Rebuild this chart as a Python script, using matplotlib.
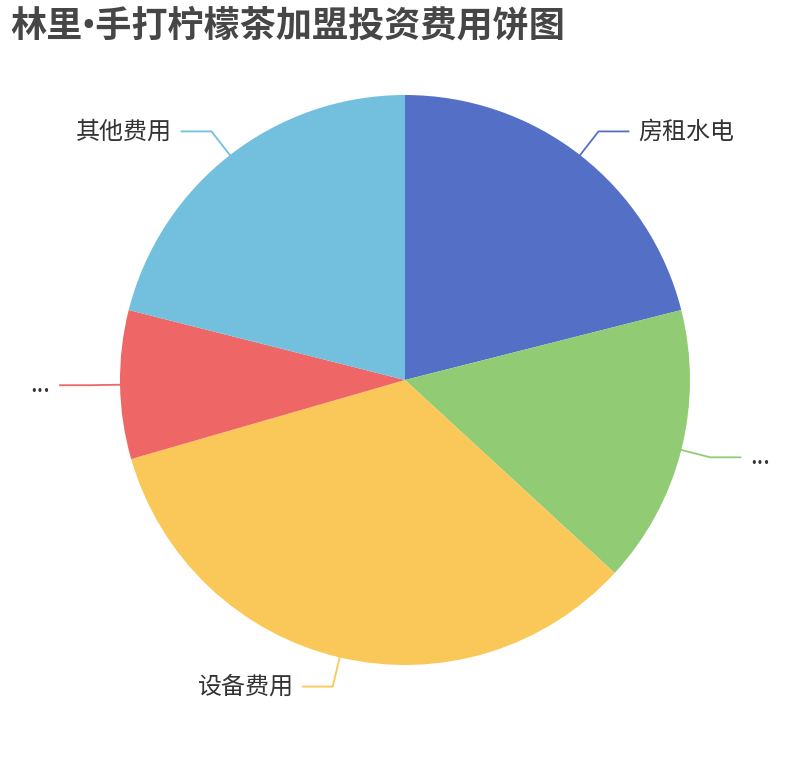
import numpy as np
import matplotlib
matplotlib.use("Agg")
import matplotlib.pyplot as plt

plt.rcParams['font.family'] = ['Noto Sans CJK SC', 'DejaVu Sans']

title = "林里•手打柠檬茶加盟投资费用饼图"
labels = ["房租水电", "...", "设备费用", "...", "其他费用"]
values = [5, 3.75, 8, 2, 5]
colors = ["#5470c6", "#91cc75", "#fac858", "#ee6666", "#73c0de"]

W, H = 810, 760
fig = plt.figure(figsize=(W / 100, H / 100), dpi=100)
ax = fig.add_axes([0, 0, 1, 1])

cx, cy, r = 405, H - 380, 285
wedges, _ = ax.pie(values, colors=colors, startangle=90, counterclock=False,
                   center=(cx, cy), radius=r, frame=True,
                   wedgeprops=dict(linewidth=0))
ax.set_xlim(0, W)
ax.set_ylim(0, H)
ax.set_aspect('equal')
ax.axis('off')

# label lines like echarts: short radial piece then horizontal piece
for w, lab, col in zip(wedges, labels, colors):
    mid = np.deg2rad((w.theta1 + w.theta2) / 2)
    c, s = np.cos(mid), np.sin(mid)
    p0 = (cx + r * c, cy + r * s)
    p1 = (cx + (r + 30) * c, cy + (r + 30) * s)
    side = 1 if c >= 0 else -1
    p2 = (p1[0] + side * 30, p1[1])
    ax.plot([p0[0], p1[0], p2[0]], [p0[1], p1[1], p2[1]], color=col, lw=1.3)
    ax.text(p2[0] + side * 10, p2[1], lab, fontsize=17.3, color='#333333',
            ha='left' if side > 0 else 'right', va='center')

# bullet from Roboto so it stays narrow
fig.text(10 / W, 1 - 27 / H, title, fontsize=26, fontweight='bold',
         family=['Roboto', 'Noto Sans CJK SC'],
         color='#464646', ha='left', va='center')

fig.savefig("out.png", dpi=100)
